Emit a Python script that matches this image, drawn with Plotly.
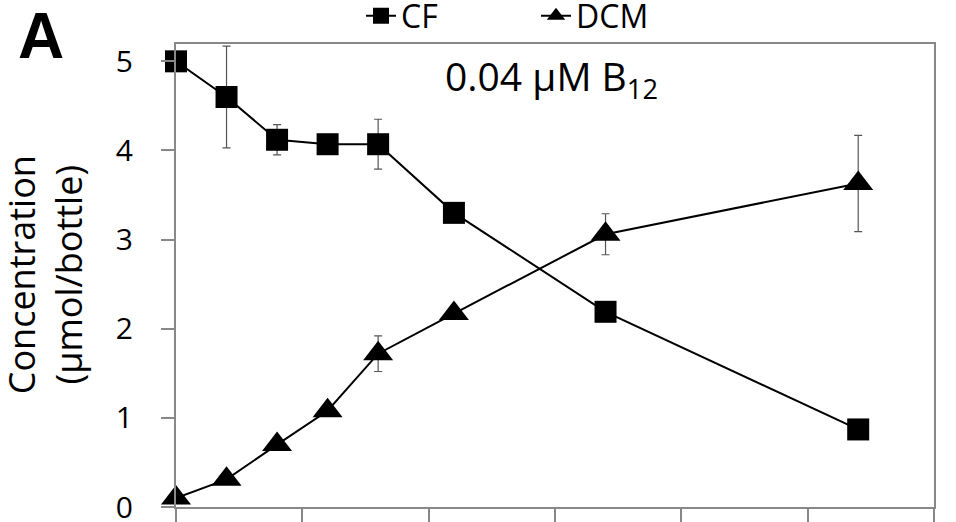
import plotly.graph_objects as go

days = [0, 2, 4, 6, 8, 11, 17, 27]
cf = [5.0, 4.60, 4.12, 4.07, 4.07, 3.30, 2.19, 0.87]
cf_err = [0, 0.57, 0.17, 0, 0.28, 0, 0, 0]
dcm = [0.10, 0.31, 0.70, 1.08, 1.72, 2.17, 3.06, 3.63]
dcm_err = [0, 0, 0, 0, 0.20, 0, 0.23, 0.54]

FONT = "'Open Sans', Lato, sans-serif"
fig = go.Figure()
fig.add_trace(go.Scatter(
    x=days, y=cf, name="CF", mode="lines+markers",
    line=dict(color="black", width=2),
    marker=dict(symbol="square", size=22, color="black"),
    error_y=dict(type="data", array=cf_err, visible=True, color="#555", thickness=1.2, width=4),
    cliponaxis=False,
))
fig.add_trace(go.Scatter(
    x=days, y=dcm, name="DCM", mode="lines+markers",
    line=dict(color="black", width=2),
    marker=dict(symbol="triangle-up", size=26, color="black"),
    error_y=dict(type="data", array=dcm_err, visible=True, color="#555", thickness=1.2, width=4),
    cliponaxis=False,
))

fig.update_layout(
    width=956, height=522,
    margin=dict(l=176, r=22, t=43, b=15),
    paper_bgcolor="white", plot_bgcolor="white",
    font=dict(family=FONT, size=30, color="black"),
    showlegend=True,
    legend=dict(orientation="h", xref="container", yref="container",
                x=361 / 956, xanchor="left", y=1 - 16 / 522, yanchor="middle",
                font=dict(size=32), bgcolor="rgba(0,0,0,0)",
                traceorder="normal", entrywidth=130, entrywidthmode="pixels"),
    xaxis=dict(range=[0, 30], dtick=5, tick0=0, showticklabels=False,
               ticks="outside", ticklen=16, tickcolor="#888", tickwidth=2,
               showline=True, linecolor="#888", linewidth=2, mirror=True,
               showgrid=False, zeroline=False, automargin=False),
    yaxis=dict(range=[0, 5.2], dtick=1, tick0=0,
               ticks="outside", ticklen=13, tickcolor="#888", tickwidth=2,
               ticklabelstandoff=22, ticklabeloverflow="allow",
               showline=True, linecolor="#888", linewidth=2, mirror=True,
               showgrid=False, zeroline=False, tickfont=dict(size=30),
               automargin=False),
)

fig.add_annotation(text="0.04 μM B<sub>12</sub>", xref="paper", yref="paper",
                   x=0.496, y=0.925, showarrow=False, font=dict(size=39),
                   xanchor="center", yanchor="middle")
fig.add_annotation(text="<b>A</b>", xref="paper", yref="paper",
                   x=-0.178, y=1.016, showarrow=False,
                   font=dict(size=64, family="Liberation Sans, Arial, sans-serif"),
                   xanchor="center", yanchor="middle")
fig.add_annotation(text="Concentration<br>(μmol/bottle)", xref="paper", yref="paper",
                   x=(45 - 176) / 758, y=0.5, showarrow=False, textangle=-90,
                   font=dict(size=36), xanchor="center", yanchor="middle")

fig.write_html("out.html")
